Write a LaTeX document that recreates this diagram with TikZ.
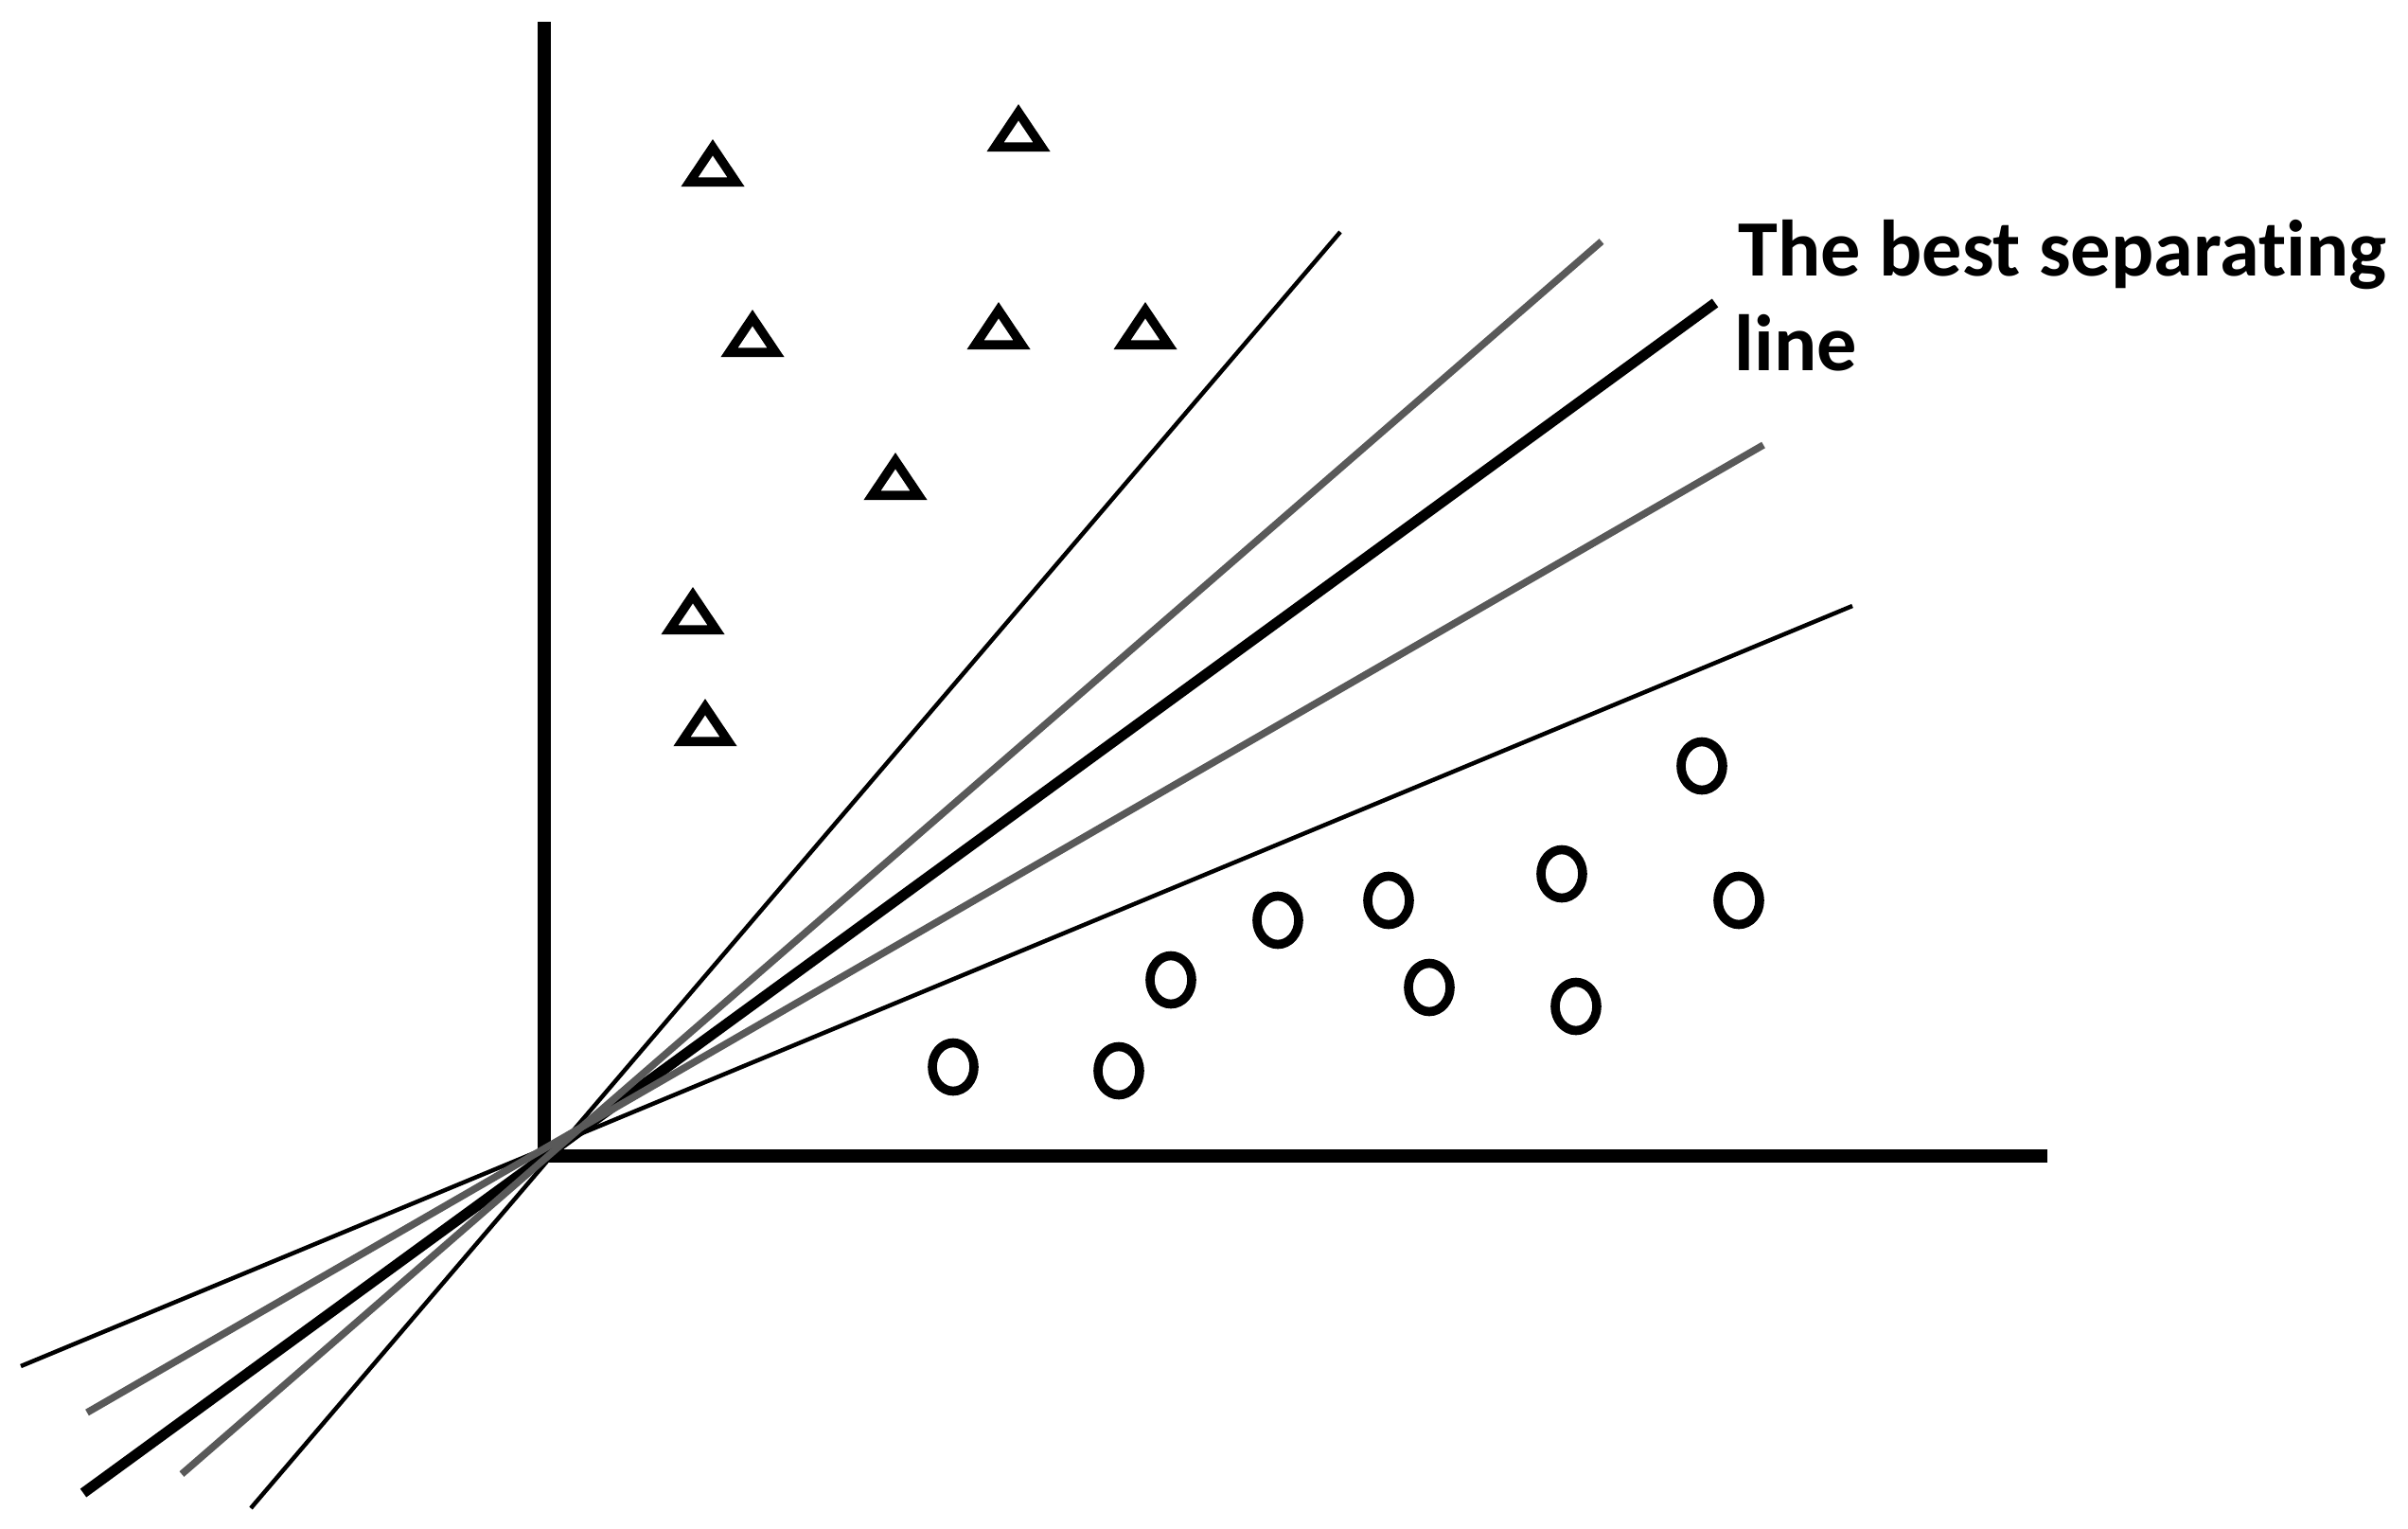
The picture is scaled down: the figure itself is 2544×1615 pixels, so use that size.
\documentclass[tikz,border=0pt]{standalone}
\usepackage{fontspec}
\setmainfont{Carlito}[Ligatures={NoCommon}]
\definecolor{lgray}{HTML}{595959}
\tikzset{
  axisline/.style={line width=0.14cm, line join=miter, line cap=butt},
  thinline/.style={black, line width=0.045cm, line cap=butt},
  grayline/.style={lgray, line width=0.075cm, line cap=butt},
  bestline/.style={black, line width=0.11cm, line cap=butt},
  marker/.style={black, line width=0.096cm, line join=miter},
  lbl/.style={inner sep=0pt, font=\bfseries\fontsize{24pt}{28.4pt}\selectfont},
  tri/.pic={\draw[marker] (-24.5,20.2) -- (0,-16.3) -- (24.5,20.2) -- cycle;},
  circ/.pic={\draw[marker] (0,0) ellipse [x radius=22, y radius=25.5];}
}
\begin{document}
\begin{tikzpicture}[x=0.01cm, y=-0.01cm]
\useasboundingbox (0,0) rectangle (2544,1615);
% axes
\coordinate (ytop) at (575,23);
\coordinate (O) at (575,1221);
\coordinate (xend) at (2163,1221);
\draw[axisline] (ytop) -- (O) -- (xend);
% line end points
\coordinate (a1) at (265,1593); \coordinate (b1) at (1416,245);
\coordinate (a2) at (192,1557); \coordinate (b2) at (1692,255);
\coordinate (a3) at (88,1577);  \coordinate (b3) at (1812,320);
\coordinate (a4) at (92,1492);  \coordinate (b4) at (1863,470);
\coordinate (a5) at (22,1443);  \coordinate (b5) at (1957,640);
\draw[thinline] (a1) -- (b1);
\draw[thinline] (a5) -- (b5);
\draw[bestline] (a3) -- (b3);
\draw[grayline] (a2) -- (b2);
\draw[grayline] (a4) -- (b4);
% triangles
\pic (t1) at (753,172) {tri};
\pic (t2) at (1076,135) {tri};
\pic (t3) at (795,352) {tri};
\pic (t4) at (1055,344) {tri};
\pic (t5) at (1210,344) {tri};
\pic (t6) at (946,503) {tri};
\pic (t7) at (732,645) {tri};
\pic (t8) at (745,763) {tri};
% circles
\pic (c1) at (1007,1127) {circ};
\pic (c2) at (1182,1131) {circ};
\pic (c3) at (1237,1035) {circ};
\pic (c4) at (1350,972) {circ};
\pic (c5) at (1467,951) {circ};
\pic (c6) at (1510,1043) {circ};
\pic (c7) at (1650,923) {circ};
\pic (c8) at (1665,1063) {circ};
\pic (c9) at (1798,809) {circ};
\pic (c10) at (1837,951) {circ};
% label
\node[lbl, anchor=base west] (lbl1) at (1836,291) {The best separating};
\node[lbl, anchor=base west] (lbl2) at (1832,391) {line};
\end{tikzpicture}
\end{document}
